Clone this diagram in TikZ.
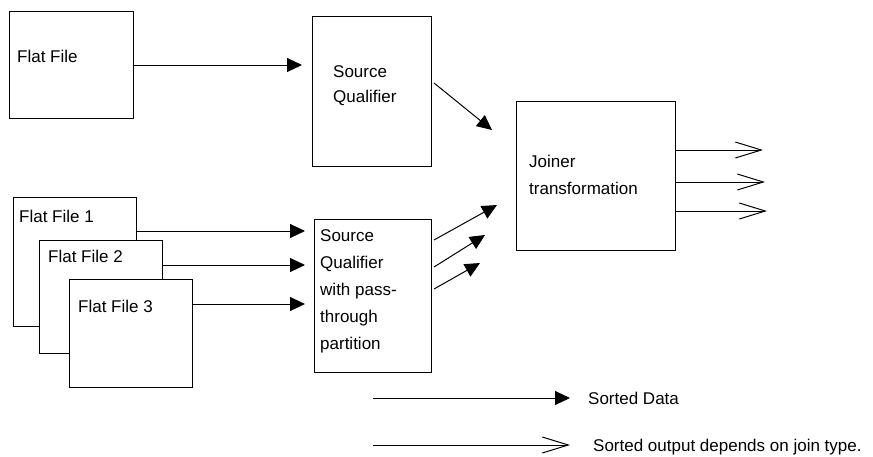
\documentclass[tikz,border=0pt]{standalone}
\usepackage{fontspec}
\setmainfont{Liberation Sans}
\usetikzlibrary{arrows.meta,calc}

\begin{document}
\begin{tikzpicture}[x=1pt,y=-1pt,
	box/.style={draw,line width=1pt,fill=white,anchor=north west,inner sep=0pt},
	txt/.style={anchor=base west,inner sep=0pt,align=left,font=\fontsize{17}{27}\selectfont},
	sorted/.style={line width=1pt,-{Triangle[length=15pt,width=14pt]}},
	joined/.style={line width=1pt,-{Straight Barb[length=26pt,width=16pt]}}]
	\useasboundingbox (0,0) rectangle (873,456);

	\node[box,minimum width=124pt,minimum height=107pt] (ff) at (9,11) {};
	\node[txt] (fft) at (17,62) {Flat File};

	\node[box,minimum width=119pt,minimum height=150pt] (sq) at (312,16) {};
	\node[txt,font=\fontsize{17}{25}\selectfont] (sqt) at (333,102) {Source\\Qualifier};

	\node[box,minimum width=159pt,minimum height=149pt] (jn) at (516,101) {};
	\node[txt] (jnt) at (529,194) {Joiner\\transformation};

	\node[box,minimum width=123pt,minimum height=129pt] (ff1) at (13,197) {};
	\node[txt] (ff1t) at (19,222) {Flat File 1};
	\node[box,minimum width=123pt,minimum height=113pt] (ff2) at (39,240) {};
	\node[txt] (ff2t) at (48,262) {Flat File 2};
	\node[box,minimum width=123pt,minimum height=108pt] (ff3) at (69,279) {};
	\node[txt] (ff3t) at (78,312) {Flat File 3};

	\node[box,minimum width=117pt,minimum height=153pt] (sqp) at (314,219) {};
	\node[txt] (sqpt) at (320,349) {Source\\Qualifier\\with pass-\\through\\partition};

	\draw[sorted,shorten >=10pt] (ff.east) -- (ff.east -| sq.west);

	\coordinate (a1) at ($(ff1.north east)+(0,34)$);
	\coordinate (a2) at ($(ff2.north east)+(0,25)$);
	\coordinate (a3) at ($(ff3.north east)+(0,25)$);
	\draw[sorted,shorten >=9pt] (a1) -- (a1 -| sqp.west);
	\draw[sorted,shorten >=9pt] (a2) -- (a2 -| sqp.west);
	\draw[sorted,shorten >=9pt] (a3) -- (a3 -| sqp.west);

	\coordinate (t0) at (492,130);
	\coordinate (t1) at (497,205);
	\coordinate (t2) at (485,235);
	\coordinate (t3) at (480,263);
	\draw[sorted] ($(sq.north east)+(2,67)$) -- (t0);
	\draw[sorted] ($(sqp.north east)+(2,21)$) -- (t1);
	\draw[sorted] ($(sqp.north east)+(2,48)$) -- (t2);
	\draw[sorted] ($(sqp.north east)+(2,70)$) -- (t3);

	\coordinate (o1) at (763,150);
	\coordinate (o2) at (765,182);
	\coordinate (o3) at (767,211);
	\draw[joined] (jn.east |- o1) -- (o1);
	\draw[joined] (jn.east |- o2) -- (o2);
	\draw[joined] (jn.east |- o3) -- (o3);

	\coordinate (l1) at (373,398);
	\coordinate (l2) at (373,445);
	\node[txt] (sd) at (588,404) {Sorted Data};
	\node[txt] (so) at (593,451) {Sorted output depends on join type.};
	\draw[sorted,shorten >=18pt] (l1) -- (l1 -| sd.west);
	\draw[joined,shorten >=23pt] (l2) -- (l2 -| so.west);
\end{tikzpicture}
\end{document}
